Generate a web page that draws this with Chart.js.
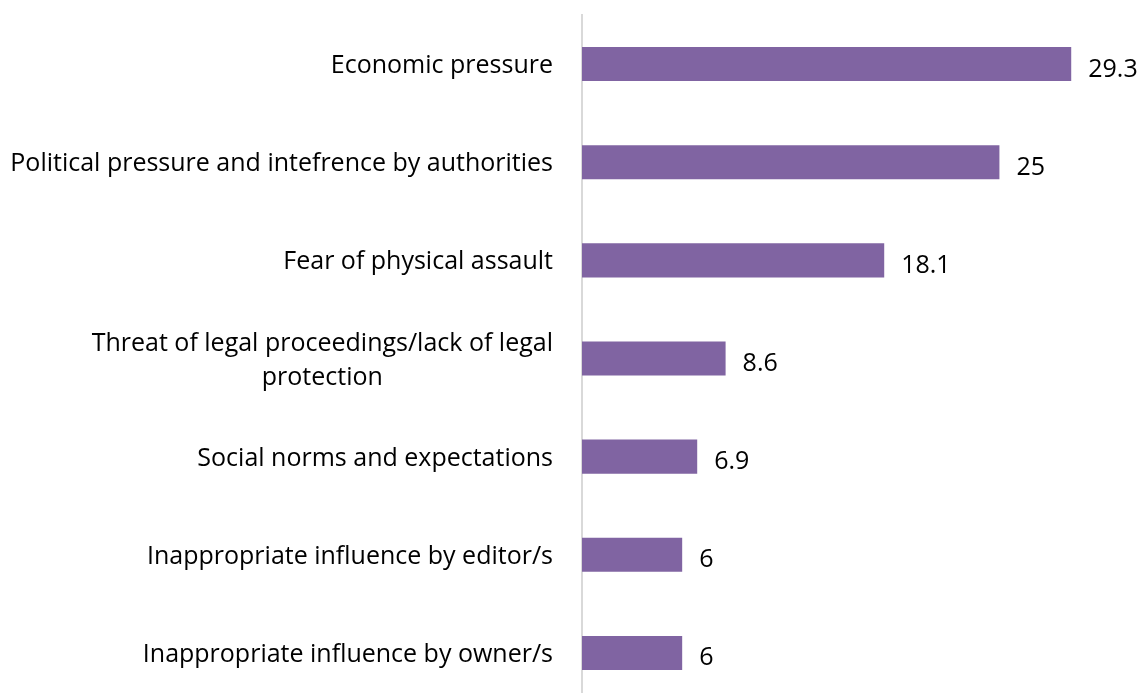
<!DOCTYPE html>
<html>
<head>
<meta charset="utf-8">
<script src="https://cdn.jsdelivr.net/npm/chart.js@4"></script>
<style>
  html, body { margin: 0; padding: 0; background: #fff; overflow: hidden; }
  #wrap { position: relative; width: 1141px; height: 712px; }
</style>
</head>
<body>
<div id="wrap"><canvas id="chart"></canvas></div>
<script>
const categories = [
    "Economic pressure",
    "Political pressure and intefrence by authorities",
    "Fear of physical assault",
    ["Threat of legal proceedings/lack of legal", "protection"],
    "Social norms and expectations",
    "Inappropriate influence by editor/s",
    "Inappropriate influence by owner/s"
];
const values = [29.3, 25, 18.1, 8.6, 6.9, 6, 6];

const FONT = '25px "Open Sans"';
const TEXT_COLOR = "#000";

// category labels: single lines right aligned, wrapped lines centred on each other
const labelPlugin = {
    id: "catLabels",
    afterDraw(chart) {
        const ctx = chart.ctx;
        const y = chart.scales.y;
        const right = chart.chartArea.left - 29;
        ctx.save();
        ctx.font = FONT;
        ctx.fillStyle = TEXT_COLOR;
        ctx.textBaseline = "alphabetic";
        categories.forEach((lab, i) => {
            const cy = y.getPixelForTick(i) + 9;
            if (Array.isArray(lab)) {
                const maxW = Math.max(...lab.map(l => ctx.measureText(l).width));
                ctx.textAlign = "center";
                lab.forEach((line, j) => {
                    ctx.fillText(line, right - maxW / 2, cy + (j - (lab.length - 1) / 2) * 34);
                });
            } else {
                ctx.textAlign = "right";
                ctx.fillText(lab, right, cy);
            }
        });
        ctx.restore();
    }
};

const valuePlugin = {
    id: "valueLabels",
    afterDatasetsDraw(chart) {
        const ctx = chart.ctx;
        const meta = chart.getDatasetMeta(0);
        ctx.save();
        ctx.font = FONT;
        ctx.fillStyle = TEXT_COLOR;
        ctx.textAlign = "left";
        ctx.textBaseline = "alphabetic";
        meta.data.forEach((bar, i) => {
            ctx.fillText(String(values[i]), bar.x + 17, bar.y + 12.5);
        });
        ctx.restore();
    }
};

new Chart(document.getElementById("chart").getContext("2d"), {
    type: "bar",
    data: {
        labels: categories,
        datasets: [{
            data: values,
            backgroundColor: "#8064A2",
            borderWidth: 0,
            categoryPercentage: 1,
            barPercentage: 0.347
        }]
    },
    options: {
        indexAxis: "y",
        responsive: true,
        maintainAspectRatio: false,
        animation: false,
        layout: { padding: { top: 15, bottom: 10, right: 8 } },
        plugins: {
            legend: { display: false },
            tooltip: { enabled: false }
        },
        scales: {
            x: {
                display: false,
                min: 0,
                max: 33
            },
            y: {
                grid: { display: false, drawTicks: false },
                border: { display: true, color: "#d9d9d9", width: 2 },
                ticks: { display: false },
                afterFit(scale) { scale.width = 582; }
            }
        }
    },
    plugins: [labelPlugin, valuePlugin]
});
</script>
</body>
</html>
